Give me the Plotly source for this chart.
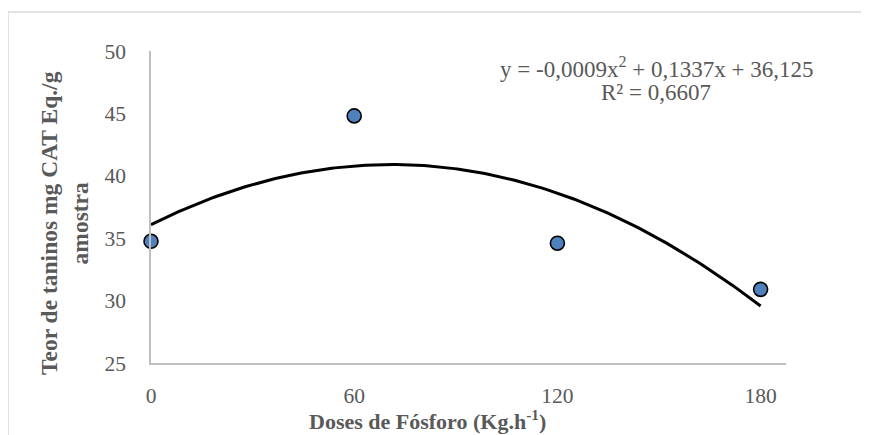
import numpy as np
import plotly.graph_objects as go

# Data
doses = [0, 60, 120, 180]
taninos = [34.75, 44.8, 34.6, 30.9]
x_ticks = [0, 60, 120, 180]
y_ticks = [25, 30, 35, 40, 45, 50]
equation_text = "y = -0,0009x<sup>2</sup> + 0,1337x + 36,125"
r2_text = "R² = 0,6607"

# Quadratic trendline (least squares fit, as in the source spreadsheet)
coef = np.polyfit(doses, taninos, 2)
xf = np.linspace(min(doses), max(doses), 200)
yf = np.polyval(coef, xf)

FONT = "Liberation Serif, Times New Roman, serif"
GRAY = "#595959"

# page has an 8px body margin; work in page pixels and convert
OFF = 8
W, H = 869 - OFF, 435 - OFF
L, R, T, B = 151, 786, 51, 363  # plot area in page pixels
def px(x):
    return (x - L) / (R - L)
def py(y):
    return (B - y) / (B - T)

fig = go.Figure()
fig.add_trace(go.Scatter(x=xf, y=yf, mode="lines",
                         line=dict(color="black", width=3),
                         hoverinfo="skip", showlegend=False))
fig.add_trace(go.Scatter(x=doses, y=taninos, mode="markers",
                         marker=dict(size=14, color="#4f81bd",
                                     line=dict(color="black", width=1.6)),
                         cliponaxis=False, showlegend=False))

fig.update_layout(
    width=W, height=H,
    margin=dict(l=L - OFF, r=869 - R, t=T - OFF, b=435 - B, autoexpand=False),
    paper_bgcolor="white", plot_bgcolor="white",
    font=dict(family=FONT, size=21.5, color=GRAY),
    xaxis=dict(range=[0, 187.5], tickvals=x_ticks, showgrid=False,
               zeroline=False, showline=True, linecolor="#bfbfbf",
               linewidth=1.5, ticks="", ticklabelstandoff=12,
               tickfont=dict(size=21.5, color=GRAY, family=FONT)),
    yaxis=dict(range=[25, 50], tickvals=y_ticks, showgrid=False,
               zeroline=False, showline=True, linecolor="#bfbfbf",
               linewidth=1.5, ticks="", ticklabelstandoff=19,
               tickfont=dict(size=21.5, color=GRAY, family=FONT)),
    shapes=[dict(type="rect", xref="paper", yref="paper",
                 x0=px(8), x1=px(900), y0=py(460), y1=py(12),
                 line=dict(color="#d9d9d9", width=1.5), layer="below")],
    annotations=[
        dict(text=equation_text, xref="paper", yref="paper",
             x=px(656), y=py(67), showarrow=False, xanchor="center",
             yanchor="middle", font=dict(size=23, color=GRAY, family=FONT)),
        dict(text=r2_text, xref="paper", yref="paper",
             x=px(656), y=py(93), showarrow=False, xanchor="center",
             yanchor="middle", font=dict(size=23, color=GRAY, family=FONT)),
        dict(text="<b>Doses de Fósforo (Kg.h<sup>-1</sup>)</b>", xref="paper",
             yref="paper", x=px(427), y=py(420), showarrow=False,
             xanchor="center", yanchor="middle",
             font=dict(size=22, color=GRAY, family=FONT)),
        dict(text="<b>Teor de taninos mg CAT Eq./g<br>amostra</b>",
             xref="paper", yref="paper", x=px(64), y=py(223),
             showarrow=False, textangle=-90, xanchor="center",
             yanchor="middle", font=dict(size=23.5, color=GRAY, family=FONT)),
    ],
)

fig.write_html("out.html")
